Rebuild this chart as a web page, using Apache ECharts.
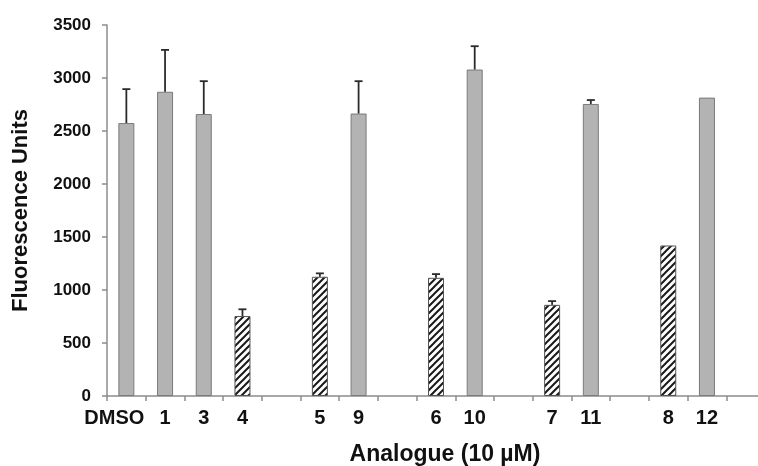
<!DOCTYPE html>
<html>
<head>
<meta charset="utf-8">
<script src="https://cdn.jsdelivr.net/npm/echarts@6/dist/echarts.min.js"></script>
<style>
  html, body { margin: 0; padding: 0; background: #fff; }
  #chart { width: 758px; height: 466px; }
</style>
</head>
<body>
<div id="chart"></div>
<script>
// categories (empty slots are the gaps between groups)
var categories = ['DMSO', '1', '3', '4', '', '5', '9', '', '6', '10', '', '7', '11', '', '8', '12', ''];
var values = [2575, 2870, 2660, 755, null, 1125, 2665, null, 1115, 3080, null, 860, 2755, null, 1420, 2815, null];
var errors = [320, 395, 310, 63, null, 32, 305, null, 35, 220, null, 35, 37, null, 0, 0, null];
var hatched = [0, 0, 0, 1, 0, 1, 0, 0, 1, 0, 0, 1, 0, 0, 1, 0, 0];
var yTicks = { min: 0, max: 3500, interval: 500 };

// diagonal stripe pattern for the hatched bars
function makeHatch() {
    var c = document.createElement('canvas');
    var s = 7;
    c.width = s; c.height = s;
    var ctx = c.getContext('2d');
    ctx.fillStyle = '#fff';
    ctx.fillRect(0, 0, s, s);
    ctx.strokeStyle = '#1a1a1a';
    ctx.lineWidth = 2;
    ctx.beginPath();
    ctx.moveTo(-1, 1); ctx.lineTo(1, -1);
    ctx.moveTo(0, s); ctx.lineTo(s, 0);
    ctx.moveTo(s - 1, s + 1); ctx.lineTo(s + 1, s - 1);
    ctx.stroke();
    return c;
}
var hatch = makeHatch();

var barData = values.map(function (v, i) {
    if (v == null) return null;
    return {
        value: v,
        itemStyle: hatched[i]
            ? { color: { image: hatch, repeat: 'repeat' }, borderColor: '#555', borderWidth: 1 }
            : { color: '#b3b3b3', borderColor: '#7a7a7a', borderWidth: 1 }
    };
});

var errData = [];
values.forEach(function (v, i) {
    if (v != null && errors[i]) errData.push([i, v, errors[i]]);
});

var chart = echarts.init(document.getElementById('chart'));
chart.setOption({
    animation: false,
    backgroundColor: '#fff',
    grid: { left: 107, right: -7, top: 25, bottom: 70, containLabel: false, outerBoundsMode: 'none' },
    xAxis: {
        type: 'category',
        data: categories.map(function (c, i) {
            // DMSO sits a bit left of its bar in the original
            return i === 0 ? { value: c, textStyle: { padding: [0, 24, 0, 0] } } : c;
        }),
        axisLine: { lineStyle: { color: '#8c8c8c', width: 1.5 } },
        axisTick: { show: true, length: 5, lineStyle: { color: '#8c8c8c', width: 1.5 } },
        axisLabel: {
            interval: 0, margin: 12, color: '#111',
            fontFamily: 'Liberation Sans', fontWeight: 'bold', fontSize: 20
        },
        name: 'Analogue (10 \u00b5M)',
        nameLocation: 'middle',
        nameGap: 47,
        nameTextStyle: {
            color: '#111', fontFamily: 'Liberation Sans', fontWeight: 'bold', fontSize: 23,
            padding: [0, 0, 0, 18]
        }
    },
    yAxis: {
        type: 'value',
        min: yTicks.min, max: yTicks.max, interval: yTicks.interval,
        axisLine: { show: true, lineStyle: { color: '#8c8c8c', width: 1.5 } },
        axisTick: { show: true, length: 5, lineStyle: { color: '#8c8c8c', width: 1.5 } },
        splitLine: { show: false },
        axisLabel: {
            margin: 16, color: '#111',
            fontFamily: 'Liberation Sans', fontWeight: 'bold', fontSize: 17,
            formatter: function (v) { return String(v); }
        },
        name: 'Fluorescence Units',
        nameLocation: 'middle',
        nameRotate: 90,
        nameGap: 75,
        nameTextStyle: {
            color: '#111', fontFamily: 'Liberation Sans', fontWeight: 'bold', fontSize: 22
        }
    },
    series: [
        {
            type: 'bar',
            barWidth: 16,
            data: barData
        },
        {
            type: 'custom',
            z: 3,
            data: errData,
            renderItem: function (params, api) {
                var i = api.value(0);
                var base = api.coord([i, api.value(1)]);
                var top = api.coord([i, api.value(1) + api.value(2)]);
                var half = 4;
                var style = { stroke: '#2b2b2b', lineWidth: 1.8 };
                return {
                    type: 'group',
                    children: [
                        { type: 'line', shape: { x1: base[0], y1: base[1], x2: top[0], y2: top[1] }, style: style },
                        { type: 'line', shape: { x1: top[0] - half, y1: top[1], x2: top[0] + half, y2: top[1] }, style: style }
                    ]
                };
            }
        }
    ]
});
window.addEventListener('resize', function () { chart.resize(); });
</script>
</body>
</html>
